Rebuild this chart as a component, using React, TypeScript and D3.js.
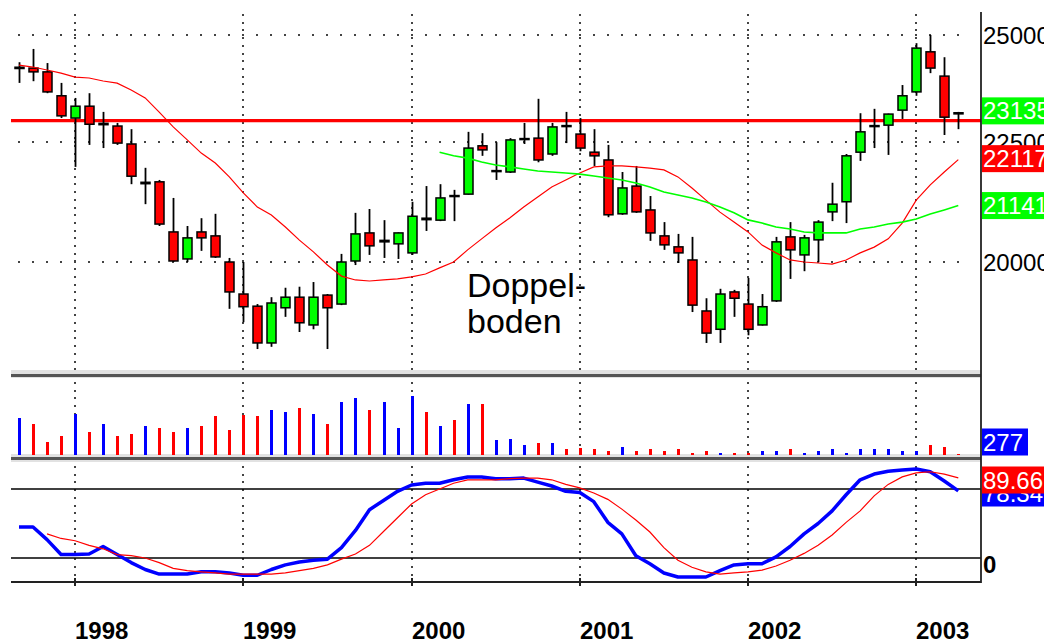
import React from 'react';
import * as d3 from 'd3';

// monthly bars, Sep 1997 .. Apr 2003
const months = d3.timeMonth.range(new Date(1997, 8, 1), new Date(2003, 4, 1));

const open = [24190, 24200, 24110, 23550, 23040, 23310, 22890, 22860, 22460, 21600,
  21640, 20600, 20060, 20600, 20520, 20000, 19380, 19150, 18470, 19120,
  19320, 18800, 19360, 19190, 20020, 20580, 20400, 20360, 20180, 20880,
  20840, 21350, 21380, 22420, 21860, 21850, 22560, 22590, 22240, 22870,
  22680, 22280, 22110, 20970, 21550, 21050, 20520, 20300, 20040, 19060,
  18720, 19420, 19190, 18800, 19250, 20500, 20140, 20440, 21010, 21220,
  22280, 22850, 22880, 23220, 23640, 24590, 24010, 23160];
const high = [24340, 24660, 24320, 23850, 23500, 23610, 23180, 22930, 22790, 21940,
  21680, 21300, 20720, 20880, 20970, 20080, 20000, 19190, 19320, 19500,
  19520, 19610, 19380, 20160, 20990, 21070, 20840, 20590, 21220, 21550,
  21590, 21470, 22730, 22700, 22500, 22590, 22930, 23480, 22930, 23180,
  23040, 22790, 22440, 21850, 21980, 21340, 20800, 20560, 20500, 19300,
  19480, 19460, 19690, 19380, 20500, 20800, 20540, 20840, 21620, 22240,
  23150, 23250, 23140, 23800, 24800, 25000, 24460, 23180];
const low = [23850, 23890, 23610, 23040, 21960, 22440, 22370, 22440, 21590, 21170,
  20720, 20000, 20000, 20220, 20080, 19100, 18850, 18360, 18400, 18950,
  18670, 18720, 18360, 19170, 19940, 20140, 20080, 20060, 20140, 20620,
  20820, 20820, 21370, 22200, 21680, 21830, 22460, 22060, 22200, 22480,
  22300, 21980, 20900, 20950, 20990, 20420, 20240, 19980, 19040, 18470,
  18470, 18950, 18610, 18790, 19230, 19670, 19820, 20000, 20820, 20780,
  22090, 22370, 22220, 23020, 23550, 24080, 22660, 22790];
const close = [24220, 24110, 23640, 23090, 23310, 22900, 22920, 22480, 21760, 21630,
  20760, 20020, 20480, 20480, 20100, 19420, 19140, 18470, 19210, 19320,
  18840, 19320, 19120, 20000, 20560, 20320, 20430, 20580, 20920, 20850,
  21300, 21330, 22370, 22330, 21880, 22550, 22580, 22110, 22840, 22850,
  22370, 22200, 20950, 21510, 21010, 20580, 20340, 20180, 19170, 18650,
  19380, 19300, 18720, 19140, 20400, 20240, 20480, 20800, 21170, 22200,
  22730, 22870, 23130, 23550, 24680, 24200, 23060, 23135];
const volume = [9200, 7750, 3200, 4700, 10200, 5700, 7700, 4700, 5200, 7200,
  6700, 5700, 6700, 7200, 9700, 6200, 10000, 9700, 11200, 10700,
  11700, 10200, 7700, 13200, 14200, 11200, 13200, 6700, 14700, 10700,
  7200, 8700, 12700, 12700, 3700, 4100, 2500, 2900, 2900, 1400,
  1750, 1400, 920, 1900, 920, 1400, 920, 1400, 420, 920,
  420, 420, 420, 920, 920, 1400, 420, 920, 1400, 420,
  1400, 1400, 1400, 920, 920, 2400, 1900, 277];
const maRed = [24270, 24225, 24155, 24080, 23985, 23965, 23895, 23845, 23685, 23500,
  23175, 22840, 22550, 22260, 22045, 21745, 21405, 21110, 20945, 20700,
  20435, 20200, 19940, 19725, 19650, 19630, 19650, 19670, 19710, 19765,
  19885, 20000, 20240, 20460, 20680, 20885, 21110, 21320, 21530, 21680,
  21830, 21960, 21980, 21980, 21960, 21935, 21895, 21745, 21510, 21255,
  21005, 20800, 20600, 20335, 20180, 20040, 20000, 19980, 19960, 20040,
  20180, 20295, 20460, 20780, 21255, 21575, 21850, 22117];
const maGreenStart = 30; // Mar 2000
const maGreen = [22280, 22200, 22150, 22065, 22000, 21960, 21915, 21870, 21850, 21830,
  21805, 21765, 21720, 21680, 21615, 21530, 21425, 21360, 21300, 21215,
  21110, 20990, 20845, 20780, 20700, 20660, 20600, 20580, 20580, 20580,
  20660, 20700, 20760, 20800, 20865, 20965, 21050, 21141];
const resistance = 22980;
const priceTicks = [25000, 22500, 20000];

const stochK = [47, 47, 36, 23, 23, 23.5, 30, 23, 16, 10,
  6, 6, 6, 8, 8, 7, 5, 5, 10, 14,
  16.5, 18, 19, 29, 44, 62, 70, 78, 83.5, 85,
  85, 88, 90.5, 90.5, 89, 89, 89.5, 86, 82.6, 78,
  77, 69, 51, 41, 22, 15, 7, 3.5, 3.5, 3.5,
  9, 14, 15, 15, 21, 30, 41, 50, 61, 75,
  88, 93, 95.5, 96.5, 97.4, 95, 87, 78.34];
const stochDStart = 2;
const stochD = [41, 37, 35, 31, 28, 23, 22, 20, 16, 11,
  9, 8, 7, 6, 6, 6, 6, 7, 9, 11,
  14, 19, 23.5, 31, 43, 55, 67, 75, 80, 85,
  88, 88, 88, 89, 89.5, 89.5, 88, 84, 81, 76.5,
  71, 62.5, 53, 42.6, 29, 18, 12, 8, 6, 7,
  8, 9.5, 13, 18, 24, 31, 40, 51, 61, 74,
  84, 90.5, 94, 95, 93, 89.66];
const stochLevels = [80, 20];

const FONT = '"Liberation Sans", Arial, Helvetica, sans-serif';
const LEFT = 11;
const RIGHT = 981;
const GREEN = '#00ff00';
const RED = '#ff0000';
const BLUE = '#0000ff';

const Tag = ({ cy, fill, text, w = 70 }: { cy: number; fill: string; text: string; w?: number }) => (
  <g>
    <rect x={982} y={cy - 13.5} width={w} height={27} fill={fill} />
    <text x={983} y={cy + 8.5} fill="#fff" fontSize={24} fontFamily={FONT}>{text}</text>
  </g>
);

export default function App() {
  const x = d3.scaleLinear().domain([0, months.length - 1]).range([19, 958.3]);
  const y = d3.scaleLog().domain([20000, 25000]).range([262, 35]);
  const yVol = d3.scaleLinear().domain([0, 19250]).range([455, 378]);
  const yOsc = d3.scaleLinear().domain([0, 100]).range([581, 466]);

  const years = months.map((m, i) => ({ m, i })).filter(d => d.m.getMonth() === 0);

  const priceLine = (start: number) => d3.line<number>().x((_, i) => x(i + start)).y(d => y(d));
  const oscLine = (start: number) => d3.line<number>().x((_, i) => x(i + start)).y(d => yOsc(d));

  const n = months.length - 1;

  return (
    <svg width={1044} height={641} style={{ position: 'absolute', left: 0, top: 0, background: '#fff' }}>
      <rect width={1044} height={641} fill="#fff" />

      {/* dotted grid, price panel */}
      {priceTicks.map(t => (
        <line key={t} x1={18} x2={960} y1={Math.round(y(t))} y2={Math.round(y(t))}
          stroke="#444" strokeWidth={2} strokeDasharray="2 12.02" shapeRendering="crispEdges" />
      ))}
      {years.map(d => (
        <g key={d.i}>
          <line x1={Math.round(x(d.i))} x2={Math.round(x(d.i))} y1={14} y2={370}
            stroke="#444" strokeWidth={2} strokeDasharray="2 5.7" shapeRendering="crispEdges" />
          <line x1={Math.round(x(d.i))} x2={Math.round(x(d.i))} y1={382} y2={455}
            stroke="#444" strokeWidth={2} strokeDasharray="2 5.7" shapeRendering="crispEdges" />
          <line x1={Math.round(x(d.i))} x2={Math.round(x(d.i))} y1={466} y2={582}
            stroke="#444" strokeWidth={2} strokeDasharray="2 5.7" shapeRendering="crispEdges" />
          <line x1={Math.round(x(d.i))} x2={Math.round(x(d.i))} y1={578} y2={586}
            stroke="#222" strokeWidth={2} shapeRendering="crispEdges" />
        </g>
      ))}

      {/* resistance */}
      <line x1={LEFT} x2={RIGHT} y1={y(resistance)} y2={y(resistance)} stroke={RED} strokeWidth={3.2} />

      {/* candles */}
      {months.map((m, i) => {
        const cx = Math.round(x(i)) + 0.5;
        const top = y(Math.max(open[i], close[i]));
        const bot = y(Math.min(open[i], close[i]));
        const h = Math.max(bot - top, 1);
        return (
          <g key={i}>
            <line x1={cx} x2={cx} y1={y(high[i])} y2={y(low[i])} stroke="#000" strokeWidth={1.8} />
            <rect x={cx - 4.5} y={top} width={9} height={h}
              fill={close[i] >= open[i] ? GREEN : RED} stroke="#000" strokeWidth={1.5} />
          </g>
        );
      })}

      {/* moving averages */}
      <path d={priceLine(0)(maRed) || ''} fill="none" stroke={RED} strokeWidth={1.2} />
      <path d={priceLine(maGreenStart)(maGreen) || ''} fill="none" stroke={GREEN} strokeWidth={1.6} />

      <text fontFamily={FONT} fontSize={34} fill="#000">
        <tspan x={467} y={297}>Doppel-</tspan>
        <tspan x={467} y={333}>boden</tspan>
      </text>

      {/* separators */}
      <rect x={LEFT} y={370} width={RIGHT - LEFT} height={8} fill="#e2e2e2" />
      <line x1={LEFT} x2={RIGHT} y1={375.5} y2={375.5} stroke="#555" strokeWidth={3} />
      <rect x={LEFT} y={454} width={RIGHT - LEFT} height={8} fill="#e2e2e2" />
      <line x1={LEFT} x2={RIGHT} y1={458.5} y2={458.5} stroke="#555" strokeWidth={3} />

      {/* volume */}
      {volume.map((v, i) => (
        <rect key={i} x={Math.round(x(i)) - 1} y={yVol(v)} width={3} height={455 - yVol(v)}
          fill={close[i] >= open[i] ? BLUE : RED} shapeRendering="crispEdges" />
      ))}

      {/* oscillator */}
      {stochLevels.map(l => (
        <line key={l} x1={LEFT} x2={RIGHT} y1={yOsc(l)} y2={yOsc(l)} stroke="#000" strokeWidth={1.3} />
      ))}
      <line x1={LEFT} x2={RIGHT} y1={582} y2={582} stroke="#222" strokeWidth={2} />
      <path d={oscLine(0)(stochK) || ''} fill="none" stroke={BLUE} strokeWidth={3.5} strokeLinejoin="round" />
      <path d={oscLine(stochDStart)(stochD) || ''} fill="none" stroke={RED} strokeWidth={1.2} />

      {/* right axis */}
      <line x1={RIGHT} x2={RIGHT} y1={12} y2={583} stroke="#222" strokeWidth={1.8} />
      {priceTicks.map(t => (
        <text key={t} x={983} y={y(t) + 8.5} fontSize={24} fontFamily={FONT} fill="#000">{t}</text>
      ))}
      <Tag cy={y(close[n]) - 3} fill={GREEN} text={String(close[n])} />
      <Tag cy={y(maRed[n]) - 1} fill={RED} text={String(maRed[n])} />
      <Tag cy={y(maGreen[maGreen.length - 1])} fill={GREEN} text={String(maGreen[maGreen.length - 1])} />
      <Tag cy={442} fill={BLUE} text={String(volume[n])} w={46} />
      <Tag cy={493} fill={BLUE} text={stochK[n].toFixed(2)} />
      <Tag cy={480} fill={RED} text={stochD[stochD.length - 1].toFixed(2)} />
      <text x={983} y={573} fontSize={24} fontWeight="bold" fontFamily={FONT} fill="#000">0</text>

      {/* years */}
      {years.map(d => (
        <text key={d.i} x={Math.round(x(d.i))} y={639} fontSize={24} fontWeight="bold"
          fontFamily={FONT} fill="#000">{d.m.getFullYear()}</text>
      ))}
    </svg>
  );
}
